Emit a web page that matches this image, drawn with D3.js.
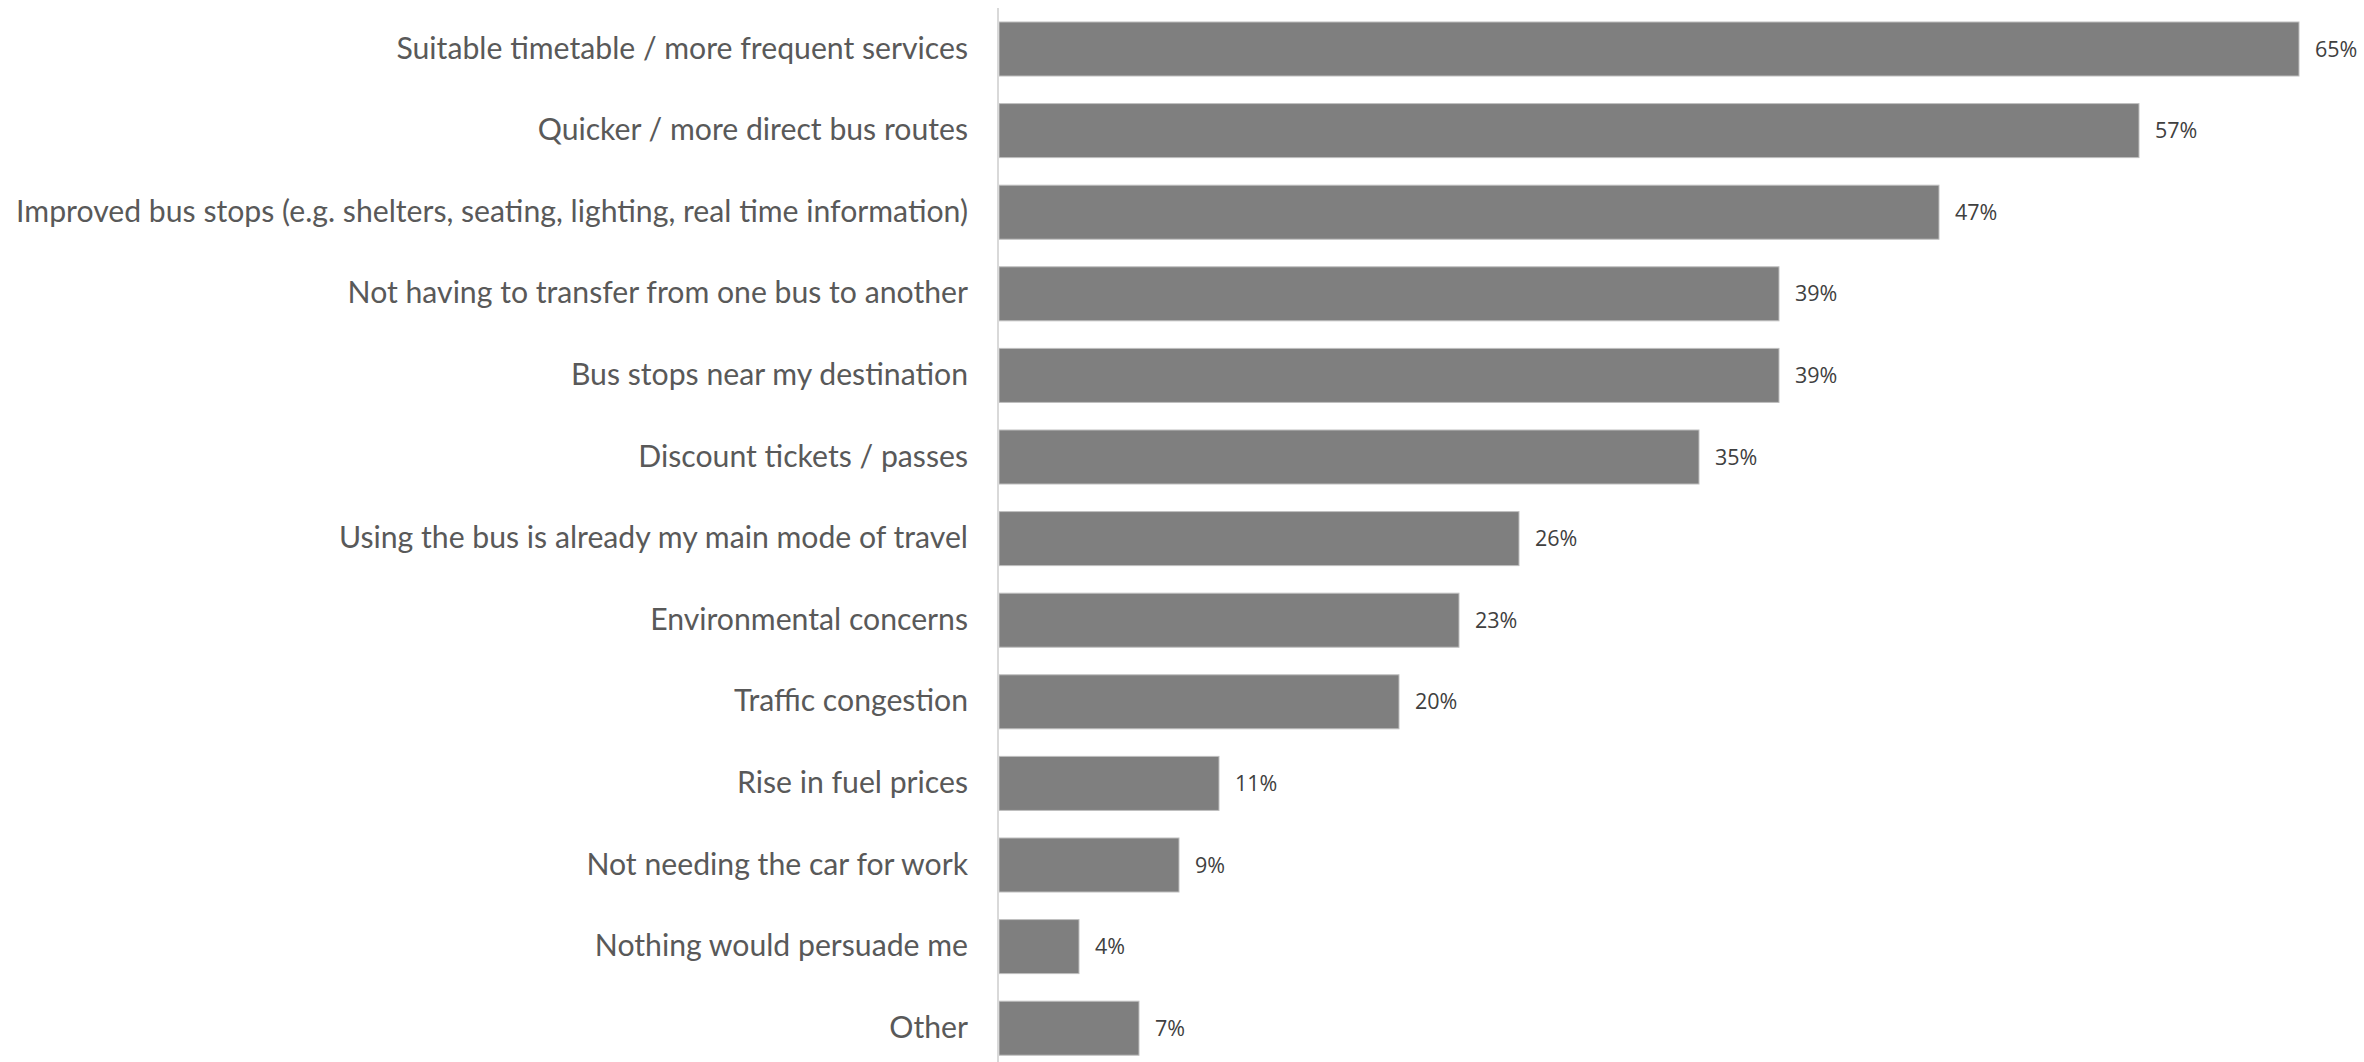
<!DOCTYPE html>
<html>
<head>
<meta charset="utf-8">
<script src="https://cdn.jsdelivr.net/npm/d3@7"></script>
<style>
  html, body { margin: 0; padding: 0; background: #ffffff; }
  svg { display: block; }
</style>
</head>
<body>
<svg id="chart" width="2364" height="1062"></svg>
<script>
// Reasons that would persuade respondents to use the bus (% of respondents)
const categories = [
  "Suitable timetable / more frequent services",
  "Quicker / more direct bus routes",
  "Improved bus stops (e.g. shelters, seating, lighting, real time information)",
  "Not having to transfer from one bus to another",
  "Bus stops near my destination",
  "Discount tickets / passes",
  "Using the bus is already my main mode of travel",
  "Environmental concerns",
  "Traffic congestion",
  "Rise in fuel prices",
  "Not needing the car for work",
  "Nothing would persuade me",
  "Other"
];
const values = [65, 57, 47, 39, 39, 35, 26, 23, 20, 11, 9, 4, 7];

const W = 2364, H = 1062;
const axisX = 998;

const svg = d3.select("#chart");

const x = d3.scaleLinear()
  .domain([0, 65])
  .range([axisX + 1, axisX + 1 + 65 * 20.0]);

const y = d3.scaleBand()
  .domain(categories)
  .range([8.2, 8.2 + 13 * 81.6])
  .paddingInner(0.338)
  .paddingOuter(0.169);

const rows = categories.map((c, i) => ({ cat: c, val: values[i] }));

// bars
svg.append("g")
  .selectAll("rect")
  .data(rows)
  .join("rect")
  .attr("x", x(0))
  .attr("y", d => y(d.cat))
  .attr("width", d => x(d.val) - x(0))
  .attr("height", y.bandwidth())
  .attr("fill", "#7f7f7f")
  .attr("stroke", "#bfbfbf")
  .attr("stroke-width", 1);

// vertical category axis line
svg.append("line")
  .attr("x1", axisX).attr("x2", axisX)
  .attr("y1", 8).attr("y2", H)
  .attr("stroke", "#d9d9d9")
  .attr("stroke-width", 2);

// category labels
const yAxis = d3.axisLeft(y).tickSize(0).tickPadding(0);
const gAxis = svg.append("g")
  .attr("transform", `translate(${axisX - 30},0)`)
  .call(yAxis);
gAxis.select(".domain").remove();
gAxis.selectAll("text")
  .attr("fill", "#595959")
  .style("font-family", "Lato, 'Open Sans', sans-serif")
  .style("font-size", "30.2px");

// value labels
svg.append("g")
  .selectAll("text")
  .data(rows)
  .join("text")
  .attr("x", d => x(d.val) + 16)
  .attr("y", d => y(d.cat) + y.bandwidth() / 2)
  .attr("dy", "0.35em")
  .attr("fill", "#404040")
  .style("font-family", "'Open Sans', sans-serif")
  .style("font-size", "21.5px")
  .text(d => d.val + "%");
</script>
</body>
</html>
